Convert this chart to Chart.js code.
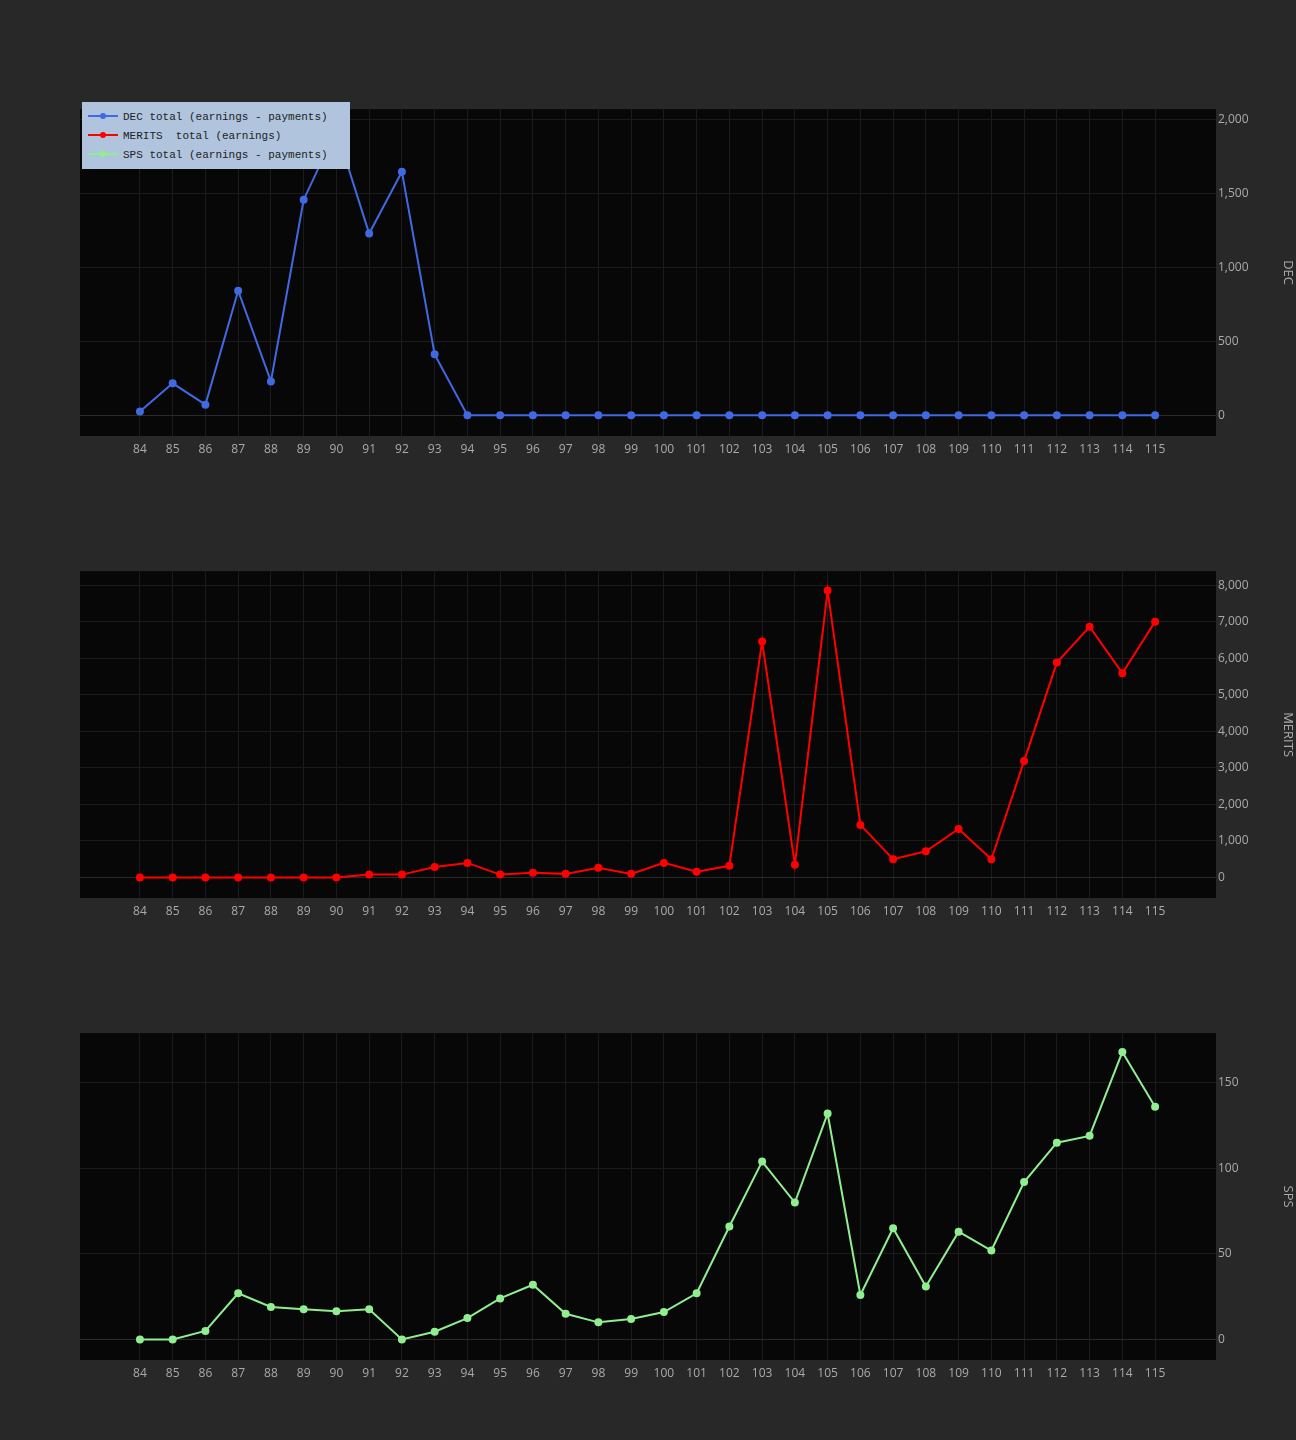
<!DOCTYPE html>
<html>
<head>
<meta charset="utf-8">
<script src="https://cdn.jsdelivr.net/npm/chart.js@4"></script>
<style>
  body { margin: 0; background: #282828; width: 1296px; height: 1440px; position: relative; overflow: hidden; }
  .box { position: absolute; left: 0; width: 1296px; height: 360px; }
  .legend { position: absolute; left: 82px; top: 102px; width: 268px; height: 67px; background: #b0c4de;
    font-family: "Liberation Mono", monospace; font-size: 11px; color: #222; box-sizing: border-box; padding-top: 8px; }
  .legend div { height: 19px; line-height: 14px; white-space: pre; }
  .mk { display: inline-block; position: relative; width: 30px; height: 2px; margin: 0 5px 3px 6px; vertical-align: middle; }
  .mk::after { content: ''; position: absolute; left: 12px; top: -2px; width: 6px; height: 6px; border-radius: 3px; background: inherit; }
</style>
</head>
<body>
<div class="box" style="top:100px"><canvas id="c1"></canvas></div>
<div class="box" style="top:562px"><canvas id="c2"></canvas></div>
<div class="box" style="top:1024px"><canvas id="c3"></canvas></div>
<div class="legend">
  <div><span class="mk" style="background:#4169e1"></span>DEC total (earnings - payments)</div>
  <div><span class="mk" style="background:#ff0000"></span>MERITS  total (earnings)</div>
  <div><span class="mk" style="background:#90ee90"></span>SPS total (earnings - payments)</div>
</div>
<script>
const seasons = [84,85,86,87,88,89,90,91,92,93,94,95,96,97,98,99,100,101,102,103,104,105,106,107,108,109,110,111,112,113,114,115];
const decValues = [26,216,72,843,229,1458,1930,1229,1647,412,0,0,0,0,0,0,0,0,0,0,0,0,0,0,0,0,0,0,0,0,0,0];
const meritsValues = [0,0,0,0,0,0,0,80,80,290,400,80,130,100,270,100,400,160,320,6460,350,7850,1440,500,720,1330,500,3190,5880,6860,5590,7000];
const spsValues = [0,0,5,27,19,17.6,16.5,17.6,0,4.5,12.5,24,32,15,10,12,16,27,66,104,80,132,26,65,31,63,52,92,115,119,168,136];

const plotBg = {
  id: 'plotBg',
  beforeDraw(chart) {
    const { ctx, chartArea: a } = chart;
    ctx.save();
    ctx.fillStyle = '#070707';
    ctx.fillRect(a.left, a.top, a.right - a.left, a.bottom - a.top);
    ctx.restore();
  }
};

function makeChart(id, label, values, color, title, yMin, yMax, step) {
  new Chart(document.getElementById(id), {
    type: 'line',
    data: {
      datasets: [{
        label: label,
        data: seasons.map((s, i) => ({ x: s, y: values[i] })),
        borderColor: color,
        backgroundColor: color,
        borderWidth: 2,
        pointRadius: 3,
        tension: 0
      }]
    },
    options: {
      animation: false,
      responsive: true,
      maintainAspectRatio: false,
      layout: { padding: { left: 80, top: 0, right: 0, bottom: 0 } },
      scales: {
        x: {
          type: 'linear', min: 82.17, max: 116.86,
          afterBuildTicks: (axis) => { axis.ticks = seasons.map(v => ({ value: v })); },
          afterFit: (axis) => { axis.height = 24; },
          grid: { color: '#1b1b1b', drawTicks: false },
          border: { display: false },
          ticks: { color: '#aaa', font: { family: 'Open Sans', size: 12 }, padding: 6, maxRotation: 0, autoSkip: false }
        },
        y: {
          position: 'right', min: yMin, max: yMax,
          afterBuildTicks: (axis) => {
            const t = [];
            for (let v = 0; v <= yMax; v += step) t.push({ value: v });
            axis.ticks = t;
          },
          afterFit: (axis) => { axis.width = 80; },
          grid: { color: (c) => c.tick && c.tick.value === 0 ? '#2a2a2a' : '#1b1b1b', drawTicks: false },
          border: { display: false },
          ticks: { color: '#aaa', font: { family: 'Open Sans', size: 12 }, padding: 2 },
          title: { display: true, text: title, color: '#aaa', font: { family: 'Open Sans', size: 13 }, padding: { top: 0, bottom: 0 } }
        }
      },
      plugins: { legend: { display: false }, tooltip: { enabled: false } }
    },
    plugins: [plotBg]
  });
}

makeChart('c1', 'DEC total (earnings - payments)', decValues, '#4169e1', 'DEC', -140, 2070, 500);
makeChart('c2', 'MERITS  total (earnings)', meritsValues, '#ff0000', 'MERITS', -560, 8380, 1000);
makeChart('c3', 'SPS total (earnings - payments)', spsValues, '#90ee90', 'SPS', -12, 179, 50);
</script>
</body>
</html>
